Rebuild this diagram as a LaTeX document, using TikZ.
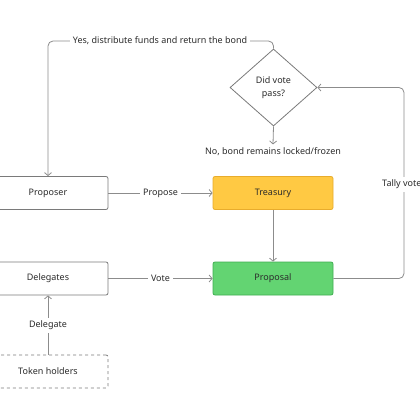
\documentclass[tikz,border=0pt]{standalone}
\usepackage{fontspec}
\setmainfont{Noto Sans}
\usetikzlibrary{arrows.meta,shapes.geometric,calc}
\definecolor{txt}{HTML}{2B2B2B}
\definecolor{edge}{HTML}{8C8C8C}
\definecolor{bord}{HTML}{7A7A7A}
\definecolor{yel}{HTML}{FFC943}
\definecolor{yelb}{HTML}{E8AC2C}
\definecolor{grn}{HTML}{63D472}
\definecolor{grnb}{HTML}{3FAE50}
\tikzset{
  box/.style={draw=bord, line width=0.8pt, rounded corners=2pt, minimum width=120pt, minimum height=33pt, inner sep=0pt, text=txt, font=\fontsize{9}{11}\selectfont},
  conn/.style={draw=edge, line width=0.8pt, -{Straight Barb[length=3pt,width=7pt]}},
  lbl/.style={fill=white, text=txt, inner sep=3pt, font=\fontsize{9}{11}\selectfont}
}
\begin{document}
\begin{tikzpicture}[x=1pt,y=-1pt]
\useasboundingbox (0,0) rectangle (420,420);
\fill[white] (0,0) rectangle (420,420);
\begin{scope}
\clip (0,0) rectangle (420,420);
\node[box] (proposer) at (48,193) {Proposer};
\node[box, fill=yel, draw=yelb] (treasury) at (273,193) {Treasury};
\node[box] (delegates) at (48,278.5) {Delegates};
\node[box, fill=grn, draw=grnb] (proposal) at (273,278.5) {Proposal};
\node[box, dashed] (token) at (48,371.5) {Token holders};
\node[draw=bord, line width=0.8pt, shape=diamond, aspect=1.13, minimum width=87pt, minimum height=77pt, inner sep=0pt, text=txt, align=center, font=\fontsize{9}{13}\selectfont] (dec) at (273.5,87.5) {Did vote\\pass?};
\coordinate (ytop) at (160,41);
\coordinate (tallyc) at (404,184);
\draw[conn, rounded corners=5pt] (dec.north) |- (ytop) -| (proposer.north);
\node[lbl] (yeslbl) at (ytop) {Yes, distribute funds and return the bond};
\draw[conn, rounded corners=5pt] (proposal.east) -| (tallyc) |- (dec.east);
\node[lbl] (tallylbl) at (tallyc) {Tally votes};
\node[text=txt, font=\fontsize{9}{11}\selectfont] (nolbl) at (273,152) {No, bond remains locked/frozen};
\draw[conn] (dec.south) -- (nolbl.north);
\draw[conn] (proposer) -- node[lbl] (proplbl) {Propose} (treasury);
\draw[conn] (delegates) -- node[lbl] (votelbl) {Vote} (proposal);
\draw[conn] (treasury) -- (proposal);
\draw[conn] (token) -- node[lbl] (dellbl) {Delegate} (delegates);
\end{scope}
\end{tikzpicture}
\end{document}
